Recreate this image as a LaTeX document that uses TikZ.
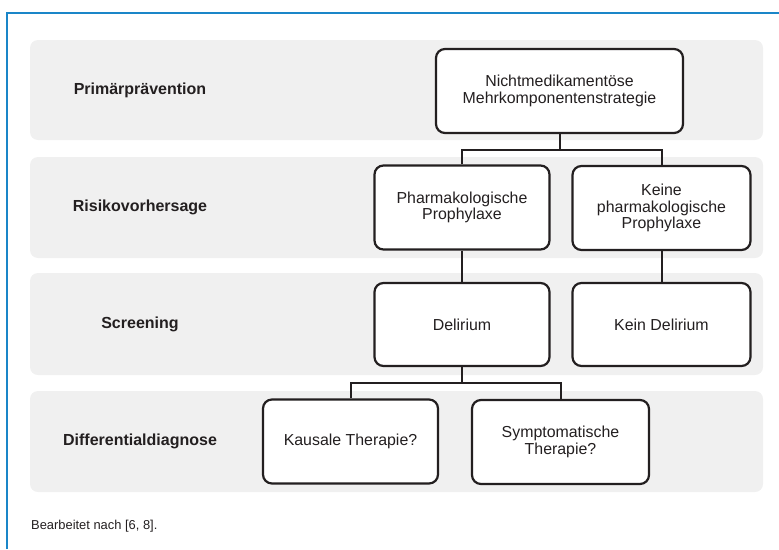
\documentclass[tikz,border=0pt]{standalone}
\usepackage{fontspec}
\setmainfont{Liberation Sans}
\definecolor{ink}{HTML}{231F20}
\definecolor{band}{HTML}{F0F0F0}
\definecolor{frameblue}{HTML}{1A86C8}
\begin{document}
\begin{tikzpicture}[x=1pt,y=-1pt,
  bandbox/.style={fill=band,draw=none,rounded corners=8pt},
  stepnode/.style={draw=ink,line width=2.2pt,rounded corners=9pt,fill=white,
    minimum height=84pt,inner sep=0pt,align=center,text=ink,
    font=\fontsize{15.9}{16.7}\selectfont},
  rowlabel/.style={text=ink,font=\bfseries\fontsize{16}{18}\selectfont,anchor=center},
  link/.style={draw=ink,line width=2pt}]
\useasboundingbox (0,0) rectangle (779,549);
% frame
\draw[frameblue,line width=1.5pt] (7,549) -- (7,13) -- (779,13);
% bands
\fill[bandbox] (30,40) rectangle (763,140);
\fill[bandbox] (30,157) rectangle (763,258);
\fill[bandbox] (30,273) rectangle (763,375);
\fill[bandbox] (30,391) rectangle (763,492);
% row labels
\node[rowlabel] (l1) at (140,90) {Primärprävention};
\node[rowlabel] (l2) at (140,207.5) {Risikovorhersage};
\node[rowlabel] (l3) at (140,324) {Screening};
\node[rowlabel] (l4) at (140,441.5) {Differentialdiagnose};
% boxes
\node[stepnode,minimum width=247pt] (nicht) at (559.5,91) {Nichtmedikamentöse\\Mehrkomponentenstrategie};
\node[stepnode,minimum width=175pt] (pharm) at (462,207.5) {Pharmakologische\\Prophylaxe};
\node[stepnode,minimum width=178pt] (keine) at (661.5,208) {Keine\\pharmakologische\\Prophylaxe};
\node[stepnode,minimum width=175pt,minimum height=83pt] (delir) at (462,324.5) {Delirium};
\node[stepnode,minimum width=178pt,minimum height=83pt] (keindel) at (661.5,324.5) {Kein Delirium};
\node[stepnode,minimum width=175pt] (kausal) at (350.5,441.5) {Kausale Therapie?};
\node[stepnode,minimum width=177pt] (sympt) at (560.5,442) {Symptomatische\\Therapie?};
% connectors
\coordinate (j1) at (559.5,150);
\coordinate (j2) at (462,383);
\draw[link] (nicht.south) -- (j1);
\draw[link] (pharm.north) |- (j1) -| (keine.north);
\draw[link] (pharm.south) -- (delir.north);
\draw[link] (keine.south) -- (keindel.north);
\draw[link] (delir.south) -- (j2);
\draw[link] (kausal.north) |- (j2) -| (sympt.north);
% footer
\node[anchor=base west,inner sep=0pt,text=ink,font=\fontsize{12.9}{14}\selectfont] (foot) at (31,529) {Bearbeitet nach [6, 8].};
\end{tikzpicture}
\end{document}
